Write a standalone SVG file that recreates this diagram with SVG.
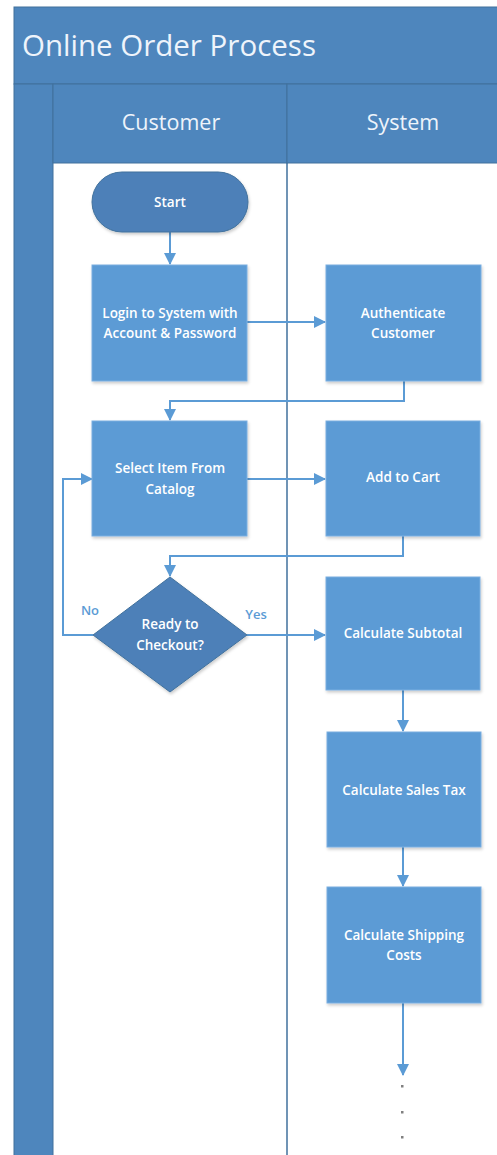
<svg xmlns="http://www.w3.org/2000/svg" width="497" height="1155" viewBox="0 0 497 1155">
<defs>
<marker id="arr" markerWidth="12" markerHeight="12" refX="11" refY="6" orient="auto" markerUnits="userSpaceOnUse">
<path d="M0,0 L12,6 L0,12 Z" fill="#5b9bd5"/>
</marker>
<filter id="sh" x="-10%" y="-10%" width="125%" height="125%">
<feDropShadow dx="1" dy="2" stdDeviation="1.5" flood-color="#000" flood-opacity="0.2"/>
</filter>
</defs>
<style>
.hdr{fill:#4e86bd;stroke:#41719c;stroke-width:1}
.box{fill:#5b9bd5;stroke:#7aaee0;stroke-width:1;filter:url(#sh)}
.dark{fill:#4d80b8;stroke:#41719c;stroke-width:1;filter:url(#sh)}
.t{font-family:"Open Sans","Liberation Sans",sans-serif;font-weight:600;font-size:13.5px;fill:#ffffff;text-anchor:middle}
.h{font-family:"Open Sans","Liberation Sans",sans-serif;font-size:21.5px;fill:#eef4fb;text-anchor:middle}
.lbl{font-family:"Open Sans","Liberation Sans",sans-serif;font-weight:600;font-size:13px;fill:#5b9bd5;text-anchor:middle}
.c{fill:none;stroke:#5b9bd5;stroke-width:2}
</style>
<rect width="497" height="1155" fill="#ffffff"/>
<g id="pool">
<rect class="hdr" x="14" y="7" width="490" height="77"/>
<text x="22" y="56" font-family="Open Sans, Liberation Sans, sans-serif" font-size="29.5" fill="#eef4fb">Online Order Process</text>
<rect class="hdr" x="14" y="84" width="39" height="1080"/>
</g>
<g id="lane-customer">
<rect class="hdr" x="53" y="84" width="234" height="79"/>
<text class="h" x="171" y="130">Customer</text>
</g>
<g id="lane-system">
<rect class="hdr" x="287" y="84" width="220" height="79"/>
<line x1="287" y1="163" x2="287" y2="1160" stroke="#41719c" stroke-width="1.5"/>
<text class="h" x="403" y="130">System</text>
</g>
<g id="connectors">
<line class="c" x1="170" y1="232" x2="170" y2="264" marker-end="url(#arr)"/>
<line class="c" x1="247" y1="322" x2="325" y2="322" marker-end="url(#arr)"/>
<polyline class="c" points="404,381 404,401 170,401 170,420" marker-end="url(#arr)"/>
<line class="c" x1="247" y1="479" x2="325" y2="479" marker-end="url(#arr)"/>
<polyline class="c" points="403,536 403,556 170,556 170,576" marker-end="url(#arr)"/>
<polyline class="c" points="93,635 63,635 63,479 92,479" marker-end="url(#arr)"/>
<line class="c" x1="247" y1="635" x2="325" y2="635" marker-end="url(#arr)"/>
<line class="c" x1="403" y1="690" x2="403" y2="731" marker-end="url(#arr)"/>
<line class="c" x1="403" y1="847" x2="403" y2="886" marker-end="url(#arr)"/>
<line class="c" x1="403" y1="1003" x2="403" y2="1075" marker-end="url(#arr)"/>
<text class="lbl" x="90" y="615">No</text>
<text class="lbl" x="256" y="619">Yes</text>
</g>
<g id="start">
<rect class="dark" x="92" y="172" width="156" height="60" rx="30"/>
<text class="t" x="170" y="207">Start</text>
</g>
<g id="login">
<rect class="box" x="92" y="265" width="155" height="116"/>
<text class="t" x="170" y="318">Login to System with</text>
<text class="t" x="170" y="338">Account &amp; Password</text>
</g>
<g id="authenticate">
<rect class="box" x="326" y="265" width="155" height="116"/>
<text class="t" x="403" y="318">Authenticate</text>
<text class="t" x="403" y="338">Customer</text>
</g>
<g id="select">
<rect class="box" x="92" y="421" width="155" height="115"/>
<text class="t" x="170" y="473">Select Item From</text>
<text class="t" x="170" y="494">Catalog</text>
</g>
<g id="cart">
<rect class="box" x="326" y="421" width="154" height="115"/>
<text class="t" x="403" y="482">Add to Cart</text>
</g>
<g id="checkout">
<polygon class="dark" points="170,577 247,635 170,692 93,635"/>
<text class="t" x="170" y="629">Ready to</text>
<text class="t" x="170" y="650">Checkout?</text>
</g>
<g id="subtotal">
<rect class="box" x="326" y="577" width="154" height="113"/>
<text class="t" x="403" y="638">Calculate Subtotal</text>
</g>
<g id="salestax">
<rect class="box" x="327" y="732" width="154" height="115"/>
<text class="t" x="404" y="795">Calculate Sales Tax</text>
</g>
<g id="shipping">
<rect class="box" x="327" y="887" width="154" height="116"/>
<text class="t" x="404" y="940">Calculate Shipping</text>
<text class="t" x="404" y="960">Costs</text>
</g>
<g id="ellipsis" fill="#808080">
<rect x="401" y="1085" width="2.5" height="2.5"/>
<rect x="401" y="1111" width="2.5" height="2.5"/>
<rect x="401" y="1136" width="2.5" height="2.5"/>
</g>
</svg>
